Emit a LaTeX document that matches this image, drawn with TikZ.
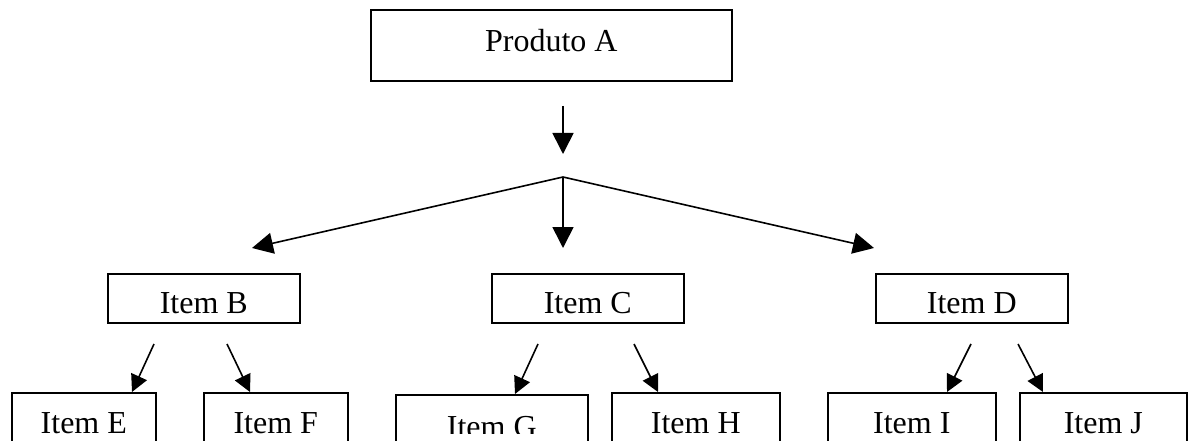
\documentclass[tikz,border=0pt]{standalone}
\usepackage{fontspec}
\setmainfont{Liberation Serif}
\usetikzlibrary{arrows.meta}
\begin{document}
\begin{tikzpicture}[x=1pt,y=-1pt,
  box/.style={draw, line width=1.6pt, inner sep=0pt, anchor=north west},
  lbl/.style={font=\fontsize{32}{38}\selectfont, anchor=base, inner sep=0pt},
  bigarr/.style={line width=1.6pt, -{Triangle[length=21pt,width=21pt]}},
  smallarr/.style={line width=1.6pt, -{Triangle[length=17pt,width=17pt]}}]
\useasboundingbox (0,0) rectangle (1188,441);
\clip (0,0) rectangle (1188,441);
% top box
\node[box, minimum width=361pt, minimum height=71pt] (A) at (370,9) {};
\node[lbl] (tA) at (A.north |- 0,52) {Produto A};
% level 2
\node[box, minimum width=192pt, minimum height=49pt] (B) at (107,273) {};
\node[box, minimum width=192pt, minimum height=49pt] (C) at (491,273) {};
\node[box, minimum width=192pt, minimum height=49pt] (D) at (875,273) {};
\node[lbl] (tB) at (B.north |- 0,313) {Item B};
\node[lbl] (tC) at (C.north |- 0,313) {Item C};
\node[lbl] (tD) at (D.north |- 0,313) {Item D};
% level 3
\node[box, minimum width=144pt, minimum height=80pt] (E) at (11,392) {};
\node[box, minimum width=144pt, minimum height=80pt] (F) at (203,392) {};
\node[box, minimum width=192pt, minimum height=80pt] (G) at (395,394) {};
\node[box, minimum width=168pt, minimum height=80pt] (H) at (611,392) {};
\node[box, minimum width=168pt, minimum height=80pt] (I) at (827,392) {};
\node[box, minimum width=167pt, minimum height=80pt] (J) at (1019,392) {};
\node[lbl] (tE) at (E.north |- 0,433) {Item E};
\node[lbl] (tF) at (F.north |- 0,433) {Item F};
\begin{scope}
\clip (0,0) rectangle (1188,433);
\node[lbl] (tG) at (G.north |- 0,437) {Item G};
\end{scope}
\node[lbl] (tH) at (H.north |- 0,433) {Item H};
\node[lbl] (tI) at (I.north |- 0,433) {Item I};
\node[lbl] (tJ) at (J.north |- 0,433) {Item J};
% connector coordinates
\coordinate (a0) at (563,106);
\coordinate (a1) at (563,154);
\coordinate (j) at (563,177);
\coordinate (tl) at (252,248);
\coordinate (tc) at (563,248);
\coordinate (tr) at (874,248);
\draw[bigarr] (a0) -- (a1);
\draw[bigarr] (j) -- (tl);
\draw[bigarr] (j) -- (tc);
\draw[bigarr] (j) -- (tr);
% lower arrows
\coordinate (sE) at (154,344); \coordinate (eE) at (132,392);
\coordinate (sF) at (227,344); \coordinate (eF) at (250,392);
\coordinate (sG) at (538,344); \coordinate (eG) at (515,394);
\coordinate (sH) at (634,344); \coordinate (eH) at (658,392);
\coordinate (sI) at (971,344); \coordinate (eI) at (947,392);
\coordinate (sJ) at (1018,344); \coordinate (eJ) at (1043,392);
\foreach \k in {E,F,G,H,I,J} {\draw[smallarr] (s\k) -- (e\k);}
\end{tikzpicture}
\end{document}
